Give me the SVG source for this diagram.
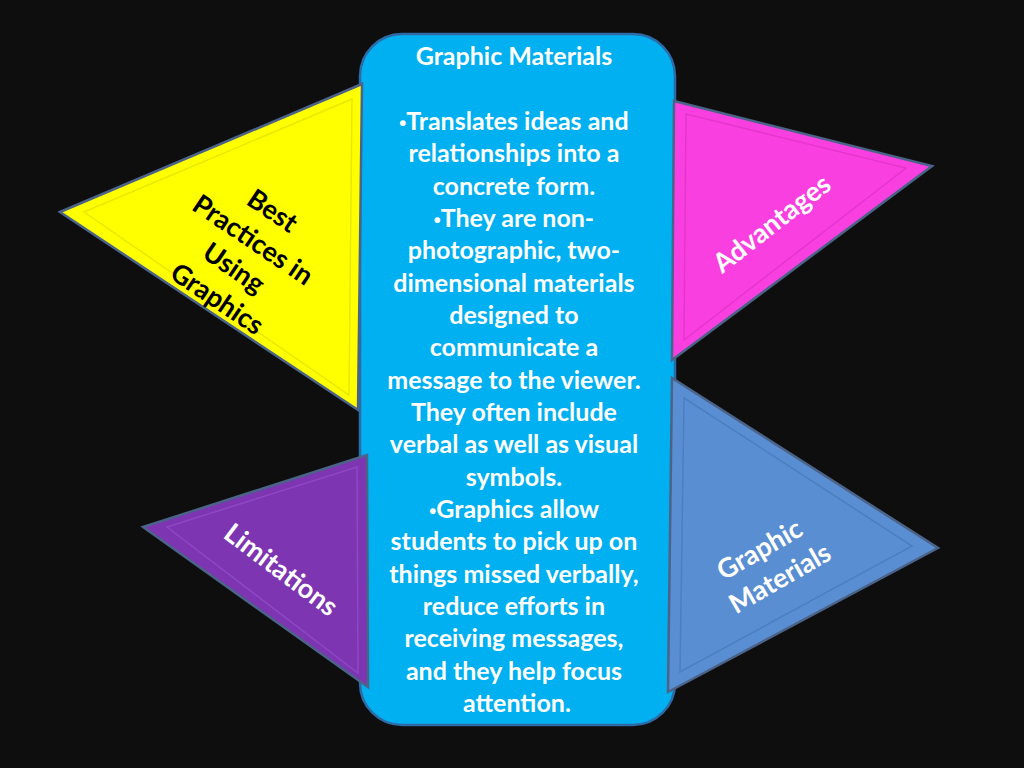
<svg xmlns="http://www.w3.org/2000/svg" width="1024" height="768" viewBox="0 0 1024 768">
<defs>
<style>
.tri{stroke:#4b6388;stroke-width:2.5;stroke-linejoin:miter}
.bev{fill:none;stroke-width:1.5}
.ctext{font-family:Lato,"Liberation Sans",sans-serif;font-weight:bold;font-size:25px;fill:#ffffff;text-anchor:middle}
.ttext{font-family:Lato,"Liberation Sans",sans-serif;font-weight:bold;font-size:27px;text-anchor:middle}
.bul{font-family:"Liberation Sans",sans-serif;font-size:20px}
</style>
</defs>
<rect x="0" y="0" width="1024" height="768" fill="#0e0e0e"/>
<g id="center-box">
<rect x="360" y="34" width="315" height="691" rx="42" ry="42" fill="#00b0f0" stroke="#2d6aa6" stroke-width="2.5"/>
<text class="ctext">
<tspan x="517" y="65">Graphic Materials</tspan>
<tspan x="517" y="130"><tspan class="bul">•</tspan>Translates ideas and</tspan>
<tspan x="517" y="162.3">relationships into a</tspan>
<tspan x="517" y="194.7">concrete form.</tspan>
<tspan x="517" y="227"><tspan class="bul">•</tspan>They are non-</tspan>
<tspan x="517" y="259.3">photographic, two-</tspan>
<tspan x="517" y="291.7">dimensional materials</tspan>
<tspan x="517" y="324">designed to</tspan>
<tspan x="517" y="356.3">communicate a</tspan>
<tspan x="517" y="388.7">message to the viewer.</tspan>
<tspan x="517" y="421">They often include</tspan>
<tspan x="517" y="453.3">verbal as well as visual</tspan>
<tspan x="517" y="485.7">symbols.</tspan>
<tspan x="517" y="518"><tspan class="bul">•</tspan>Graphics allow</tspan>
<tspan x="517" y="550.3">students to pick up on</tspan>
<tspan x="517" y="582.7">things missed verbally,</tspan>
<tspan x="517" y="615">reduce efforts in</tspan>
<tspan x="517" y="647.3">receiving messages,</tspan>
<tspan x="517" y="679.7">and they help focus</tspan>
<tspan x="517" y="712">attention.</tspan>
</text>
</g>
<g id="best-practices">
<polygon class="tri" points="60,212 362,84 358,410" fill="#ffff00"/>
<polygon class="bev" points="84,212 352,99 349,395" stroke="#e8e800"/>
<g transform="translate(246,256) rotate(34)">
<text class="ttext" fill="#000000">
<tspan x="0" y="-43">Best</tspan>
<tspan x="0" y="-8">Practices in</tspan>
<tspan x="0" y="26">Using</tspan>
<tspan x="0" y="61">Graphics</tspan>
</text>
</g>
</g>
<g id="advantages">
<polygon class="tri" points="674,101 932,166 672,360" fill="#fa3fe0"/>
<polygon class="bev" points="686,114 906,168 684,340" stroke="#e536cc"/>
<g transform="translate(772,224) rotate(-38)">
<text class="ttext" fill="#ffffff"><tspan x="0" y="9">Advantages</tspan></text>
</g>
</g>
<g id="limitations">
<polygon class="tri" points="143,527 367,455 368,687" fill="#7d35b2"/>
<polygon class="bev" points="167,527 357,467 358,673" stroke="#8e48c4"/>
<g transform="translate(281,570) rotate(37)">
<text class="ttext" fill="#ffffff"><tspan x="0" y="9">Limitations</tspan></text>
</g>
</g>
<g id="graphic-materials">
<polygon class="tri" points="672,378 938,548 668,692" fill="#5a8ed2"/>
<polygon class="bev" points="684,398 912,546 680,672" stroke="#4c7fc0"/>
<g transform="translate(771,563) rotate(-30)">
<text class="ttext" fill="#ffffff">
<tspan x="0" y="-8">Graphic</tspan>
<tspan x="0" y="27">Materials</tspan>
</text>
</g>
</g>
<g id="connectors"/>
</svg>
